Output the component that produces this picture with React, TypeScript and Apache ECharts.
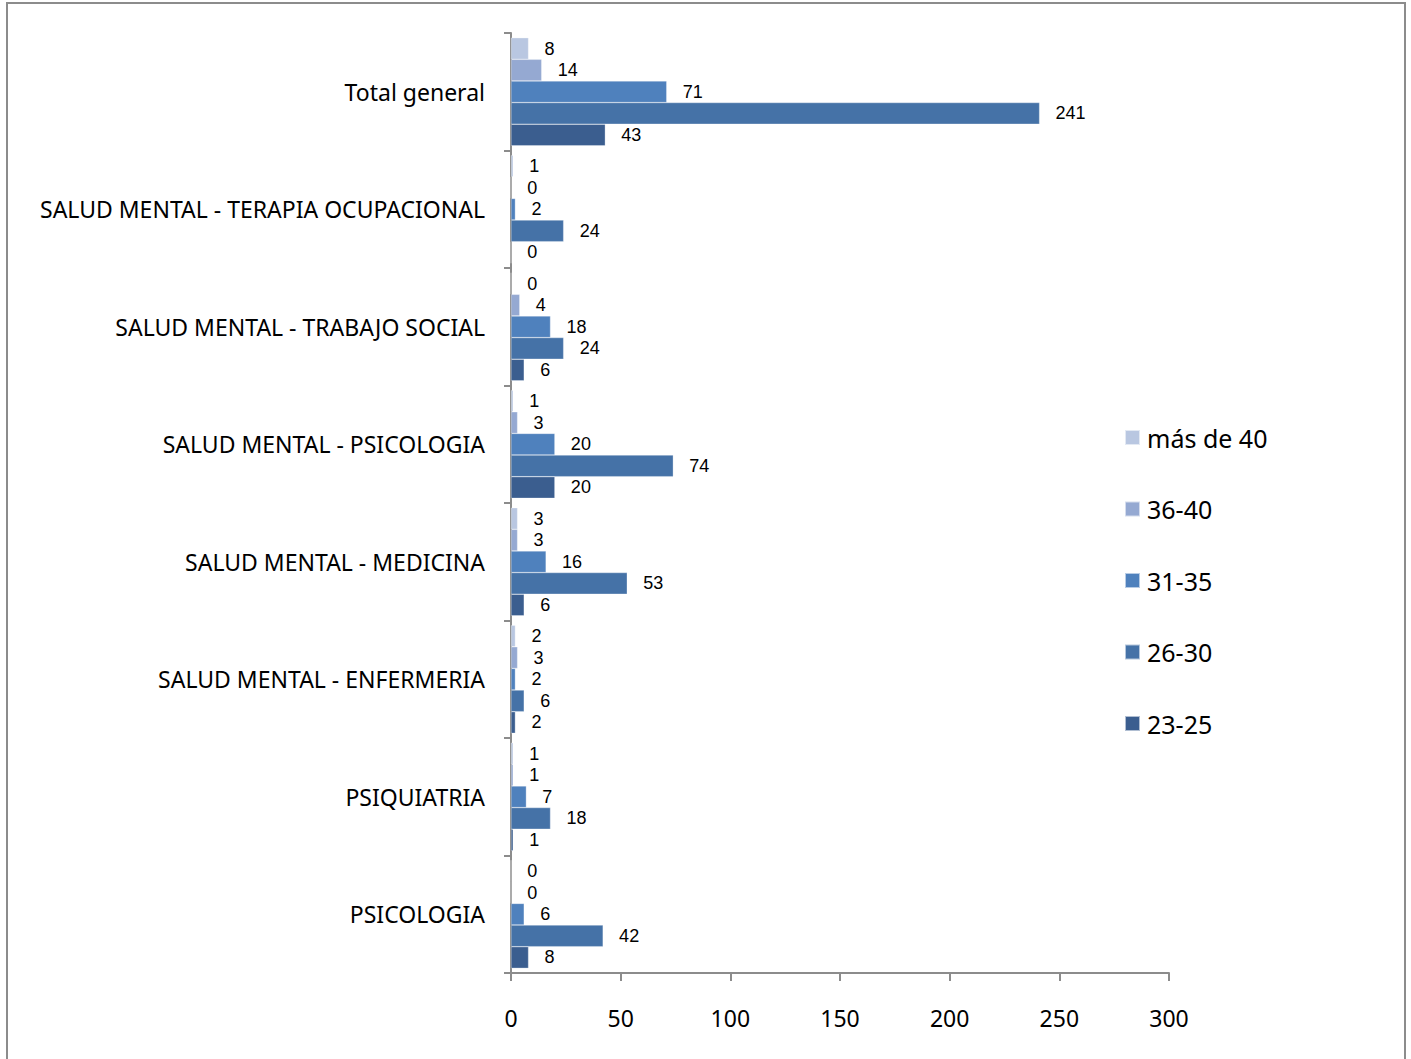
import React, { useEffect, useRef } from "react";
import * as echarts from "echarts";

const categories = [
  "PSICOLOGIA",
  "PSIQUIATRIA",
  "SALUD MENTAL - ENFERMERIA",
  "SALUD MENTAL - MEDICINA",
  "SALUD MENTAL - PSICOLOGIA",
  "SALUD MENTAL - TRABAJO SOCIAL",
  "SALUD MENTAL - TERAPIA OCUPACIONAL",
  "Total general",
];

const seriesNames = ["más de 40", "36-40", "31-35", "26-30", "23-25"];
const masDe40 = [0, 1, 2, 3, 1, 0, 1, 8];
const s36_40 = [0, 1, 3, 3, 3, 4, 0, 14];
const s31_35 = [6, 7, 2, 16, 20, 18, 2, 71];
const s26_30 = [42, 18, 6, 53, 74, 24, 24, 241];
const s23_25 = [8, 1, 2, 6, 20, 6, 0, 43];
const seriesData = [masDe40, s36_40, s31_35, s26_30, s23_25];
const colors = ["#b9c7e1", "#95a9d2", "#4f81bd", "#4572a7", "#3b5e8f"];

const FONT = "'Noto Sans', sans-serif";
const LABEL_FONT = "'Liberation Sans', Arial, sans-serif";

export default function App() {
  const ref = useRef<HTMLDivElement>(null);
  useEffect(() => {
    if (!ref.current) return;
    const chart = echarts.init(ref.current, null, { renderer: "svg" });
    chart.setOption({
      animation: false,
      backgroundColor: "transparent",
      textStyle: { fontFamily: FONT },
      legend: {
        orient: "vertical",
        left: 1119,
        top: 420,
        itemWidth: 15,
        itemHeight: 15,
        itemGap: 46.5,
        icon: "rect",
        data: seriesNames,
        textStyle: { fontSize: 25, color: "#000", fontFamily: FONT, padding: [0, 0, 0, 2] },
      },
      grid: { left: 511, right: 242, top: 33, bottom: 86 },
      xAxis: {
        type: "value",
        min: 0,
        max: 300,
        interval: 50,
        splitLine: { show: false },
        axisLine: { show: true, lineStyle: { color: "#8c8c8c", width: 2 } },
        axisTick: { show: true, length: 8, lineStyle: { color: "#8c8c8c", width: 2 } },
        axisLabel: { fontSize: 23, color: "#000", margin: 33, fontFamily: FONT },
      },
      yAxis: {
        type: "category",
        data: categories,
        axisLine: { show: true, lineStyle: { color: "#8c8c8c", width: 2 } },
        axisTick: { show: true, length: 7, lineStyle: { color: "#8c8c8c", width: 2 } },
        axisLabel: { fontSize: 23, color: "#000", margin: 26, fontFamily: FONT },
      },
      series: seriesNames.map((name, i) => ({
        name,
        type: "bar",
        data: seriesData[i],
        barGap: "0%",
        barCategoryGap: "8%",
        itemStyle: { color: colors[i], borderColor: "rgba(255,255,255,0.6)", borderWidth: 0.5 },
        label: {
          show: true,
          position: "right",
          distance: 16,
          fontSize: 18,
          lineHeight: 18,
          color: "#000",
          fontFamily: LABEL_FONT,
        },
      })),
    });
    return () => chart.dispose();
  }, []);
  return (
    <div
      style={{
        position: "fixed",
        left: 0,
        top: 0,
        width: 1411,
        height: 1059,
        overflow: "hidden",
        background: "#ffffff",
      }}
    >
      <div
        style={{
          position: "absolute",
          left: 6,
          top: 2,
          width: 1400,
          height: 1080,
          border: "2px solid #8c8c8c",
          boxSizing: "border-box",
        }}
      />
      <div ref={ref} style={{ position: "absolute", left: 0, top: 0, width: 1411, height: 1059 }} />
    </div>
  );
}
